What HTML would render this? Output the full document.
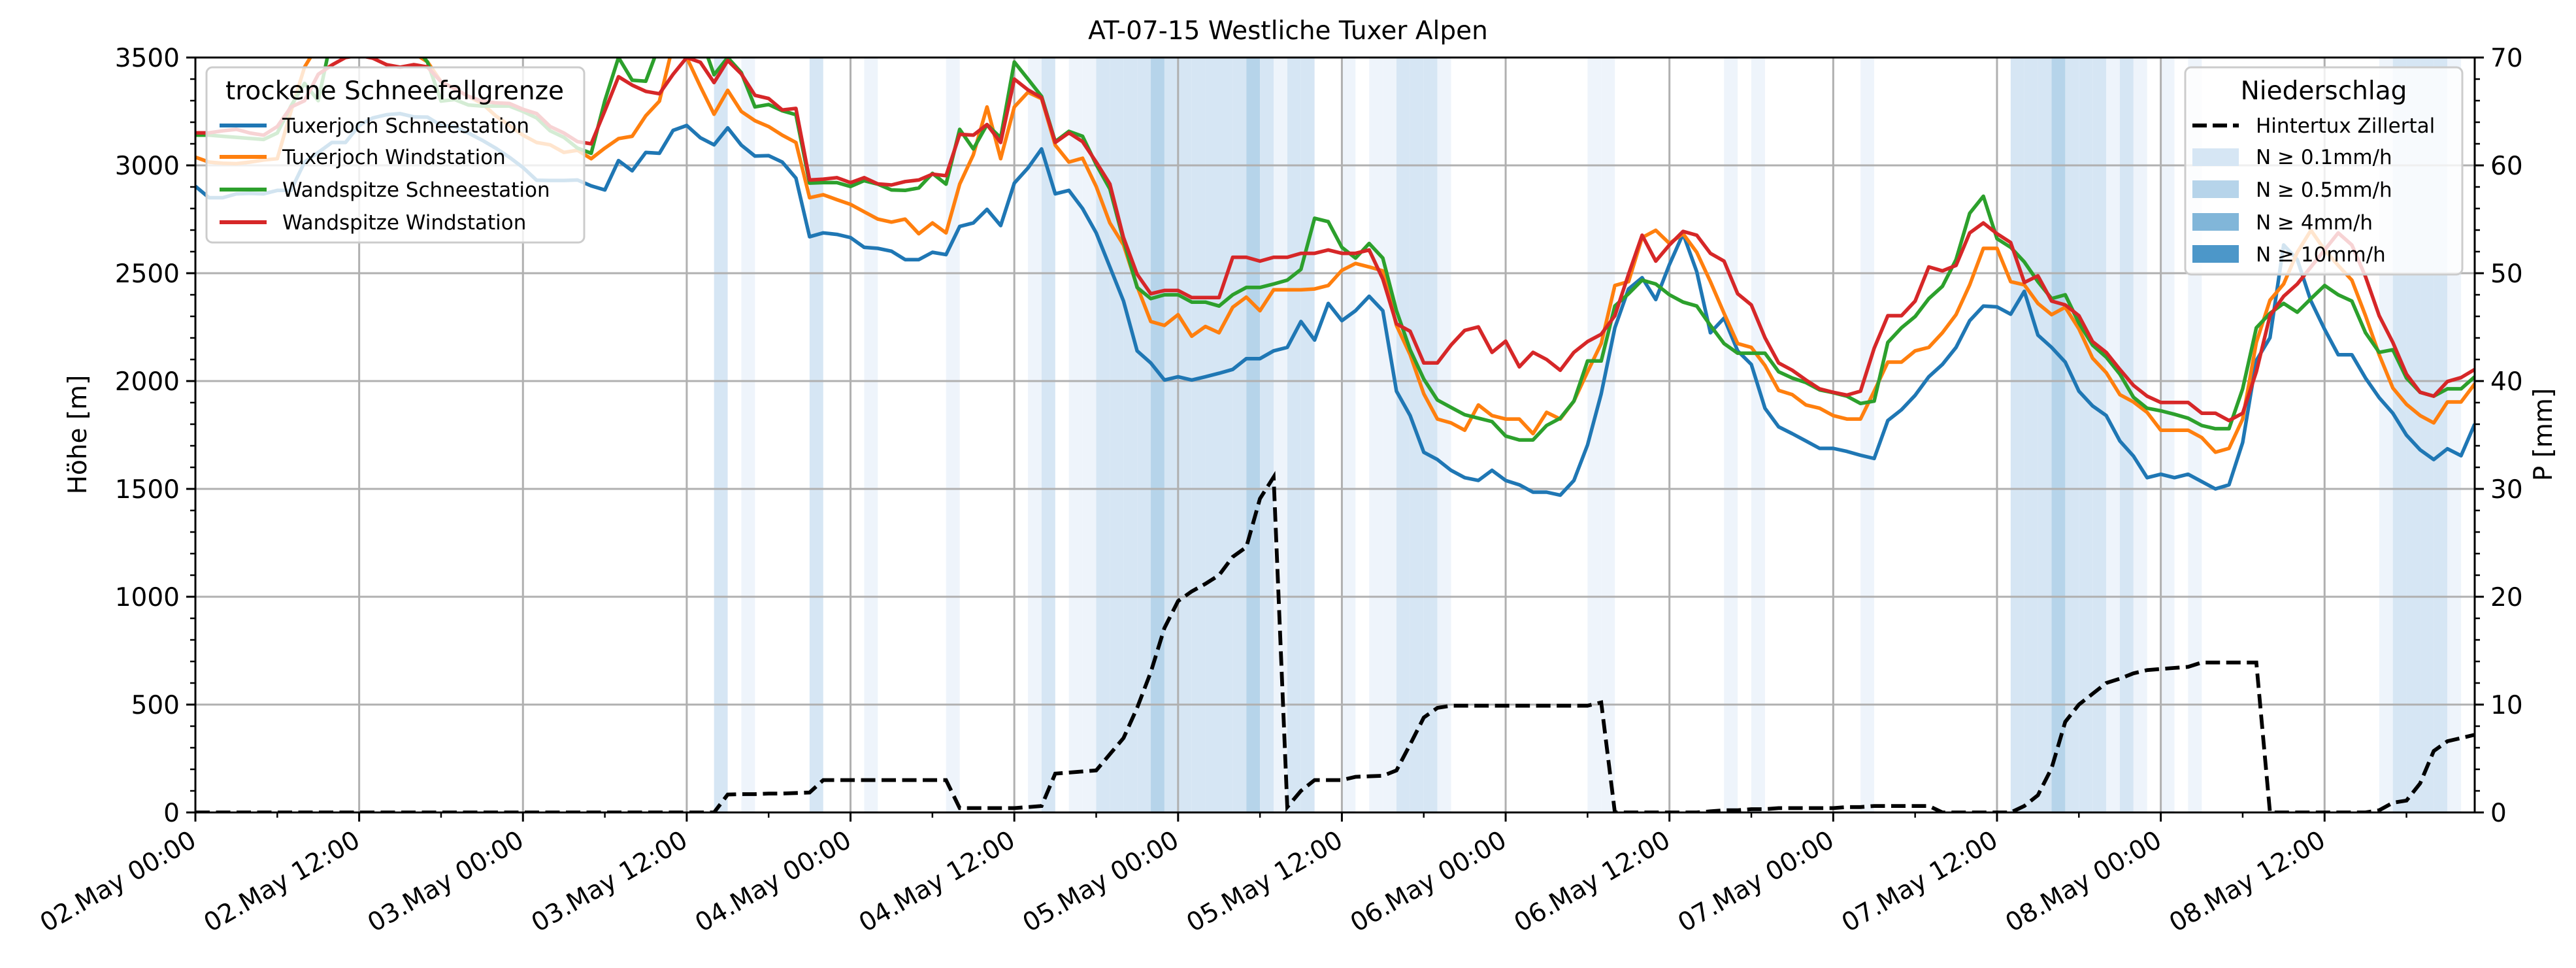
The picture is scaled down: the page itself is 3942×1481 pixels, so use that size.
<!DOCTYPE html>
<html><head><meta charset="utf-8">
<style>
html,body{margin:0;padding:0;background:#fff;}
svg{display:block;font-family:"DejaVu Sans","Liberation Sans",sans-serif;}
</style></head>
<body>
<svg id="chart" xmlns="http://www.w3.org/2000/svg" width="3942" height="1481" viewBox="0 0 3942 1481">
<defs><clipPath id="plotclip"><rect x="299" y="88" width="3488" height="1155"/></clipPath></defs>
<rect x="0" y="0" width="3942" height="1481" fill="#fff"/>
<g id="bands" clip-path="url(#plotclip)"></g>
<g id="grid"></g>
<g id="series" clip-path="url(#plotclip)"></g>
<g id="axes"></g>
<text x="1971" y="60" font-size="39" text-anchor="middle">AT-07-15 Westliche Tuxer Alpen</text>
<text transform="translate(132,665) rotate(-90)" font-size="39" text-anchor="middle">Höhe [m]</text>
<text transform="translate(3905,665) rotate(-90)" font-size="39" text-anchor="middle">P [mm]</text>

<g>
<rect x="316" y="103" width="578" height="268" rx="9" fill="#fff" fill-opacity="0.8" stroke="#cccccc" stroke-width="3"/>
<text x="604" y="152" font-size="39" text-anchor="middle">trockene Schneefallgrenze</text>
<line x1="336" y1="192" x2="408" y2="192" stroke="#1f77b4" stroke-width="6"/>
<text x="432" y="203" font-size="31">Tuxerjoch Schneestation</text>
<line x1="336" y1="240" x2="408" y2="240" stroke="#ff7f0e" stroke-width="6"/>
<text x="432" y="251" font-size="31">Tuxerjoch Windstation</text>
<line x1="336" y1="290" x2="408" y2="290" stroke="#2ca02c" stroke-width="6"/>
<text x="432" y="301" font-size="31">Wandspitze Schneestation</text>
<line x1="336" y1="340" x2="408" y2="340" stroke="#d62728" stroke-width="6"/>
<text x="432" y="351" font-size="31">Wandspitze Windstation</text>
</g>

<g>
<rect x="3344" y="103" width="424" height="317" rx="9" fill="#fff" fill-opacity="0.8" stroke="#cccccc" stroke-width="3"/>
<text x="3556" y="152" font-size="39" text-anchor="middle">Niederschlag</text>
<line x1="3355" y1="192" x2="3426" y2="192" stroke="#000" stroke-width="6" stroke-dasharray="22,9"/>
<text x="3452" y="203" font-size="31">Hintertux Zillertal</text>
<rect x="3355" y="227" width="71" height="27" fill="#d6e6f4"/>
<text x="3452" y="251" font-size="31">N ≥ 0.1mm/h</text>
<rect x="3355" y="276" width="71" height="27" fill="#b6d4ea"/>
<text x="3452" y="301" font-size="31">N ≥ 0.5mm/h</text>
<rect x="3355" y="326" width="71" height="27" fill="#81b6d9"/>
<text x="3452" y="351" font-size="31">N ≥ 4mm/h</text>
<rect x="3355" y="375" width="71" height="27" fill="#4c97c9"/>
<text x="3452" y="400" font-size="31">N ≥ 10mm/h</text>
</g>
</svg>
<script>
const hours=[];for(let i=0;i<=167;i++)hours.push(i);
const tuxSchnee=[2903,2850,2850,2868,2870,2868,2884,2884,3015,3060,3106,3106,3185,3220,3235,3240,3225,3224,3185,3180,3150,3117,3080,3038,2990,2931,2930,2930,2932,2905,2886,3022,2975,3060,3056,3162,3185,3128,3095,3174,3094,3043,3045,3015,2941,2669,2687,2680,2665,2620,2615,2602,2563,2563,2597,2586,2717,2733,2796,2721,2918,2988,3076,2868,2884,2800,2687,2529,2371,2140,2084,2005,2020,2005,2020,2036,2054,2104,2104,2140,2156,2276,2190,2360,2280,2326,2393,2326,1953,1840,1670,1636,1586,1552,1539,1586,1539,1519,1485,1485,1471,1539,1704,1941,2247,2427,2479,2378,2540,2683,2507,2224,2292,2140,2077,1874,1788,1756,1722,1688,1688,1674,1656,1641,1817,1867,1934,2020,2077,2156,2280,2348,2344,2310,2416,2213,2156,2088,1953,1885,1840,1722,1652,1552,1568,1552,1568,1534,1500,1519,1715,2095,2201,2631,2563,2371,2240,2122,2122,2014,1923,1851,1749,1681,1636,1686,1654,1801];
const tuxWind=[3038,3015,3010,3008,3015,3025,3031,3250,3456,3560,3600,3600,3600,3580,3560,3540,3520,3480,3388,3355,3320,3287,3230,3185,3140,3106,3095,3060,3070,3031,3080,3124,3135,3230,3298,3560,3500,3365,3237,3348,3250,3207,3180,3140,3106,2850,2864,2841,2819,2785,2751,2737,2751,2683,2733,2687,2913,3049,3271,3031,3271,3339,3309,3094,3015,3033,2902,2733,2631,2439,2276,2258,2308,2208,2253,2224,2342,2389,2326,2423,2423,2423,2427,2443,2513,2545,2529,2511,2258,2122,1941,1824,1806,1772,1889,1840,1824,1824,1756,1855,1824,1907,2043,2174,2443,2461,2665,2699,2638,2683,2597,2461,2314,2174,2156,2072,1957,1937,1889,1874,1840,1824,1824,1953,2088,2088,2140,2156,2224,2308,2446,2615,2615,2461,2446,2360,2308,2342,2242,2106,2039,1937,1903,1855,1772,1772,1772,1738,1670,1688,1824,2179,2375,2450,2597,2699,2608,2536,2468,2303,2122,1968,1892,1840,1806,1903,1903,1987];
const wandSchnee=[3140,3140,3135,3130,3125,3120,3150,3275,3380,3300,3600,3600,3600,3600,3600,3600,3560,3479,3298,3305,3280,3275,3275,3275,3250,3220,3160,3130,3080,3056,3300,3500,3395,3390,3560,3600,3600,3600,3420,3500,3430,3271,3282,3253,3235,2918,2920,2920,2902,2929,2913,2886,2884,2895,2963,2913,3167,3076,3189,3128,3479,3400,3320,3110,3158,3135,3004,2891,2653,2434,2382,2400,2400,2366,2366,2348,2400,2434,2434,2450,2468,2518,2755,2739,2620,2570,2638,2570,2326,2145,2009,1912,1878,1844,1828,1812,1745,1727,1727,1794,1828,1907,2093,2093,2348,2405,2468,2450,2400,2366,2348,2258,2174,2129,2129,2129,2043,2014,1993,1959,1946,1930,1896,1907,2179,2247,2299,2382,2439,2563,2778,2857,2660,2620,2552,2461,2382,2400,2269,2167,2111,2032,1925,1874,1862,1846,1828,1794,1779,1779,1964,2247,2314,2360,2319,2382,2443,2400,2371,2224,2133,2145,2014,1948,1930,1964,1964,2020];
const wandWind=[3151,3151,3160,3167,3150,3140,3180,3270,3300,3422,3465,3500,3510,3497,3467,3455,3467,3456,3388,3355,3320,3298,3290,3287,3260,3240,3180,3150,3110,3100,3253,3411,3372,3343,3332,3422,3500,3478,3384,3486,3424,3325,3310,3257,3264,2932,2936,2943,2920,2943,2914,2909,2925,2932,2959,2952,3144,3140,3189,3106,3400,3350,3314,3106,3151,3110,3015,2914,2665,2495,2405,2420,2420,2387,2387,2387,2574,2574,2556,2574,2574,2592,2592,2608,2592,2592,2608,2473,2265,2231,2084,2084,2167,2235,2251,2133,2185,2066,2133,2100,2050,2133,2183,2217,2303,2495,2676,2556,2631,2694,2676,2592,2556,2405,2353,2201,2084,2050,2005,1964,1948,1935,1953,2152,2303,2303,2371,2529,2511,2536,2687,2733,2683,2642,2457,2488,2371,2353,2303,2183,2133,2054,1980,1930,1901,1901,1901,1851,1851,1817,1851,2043,2303,2393,2450,2529,2608,2687,2631,2484,2303,2179,2032,1948,1930,1998,2016,2054];
const precipMM=[0,0,0,0,0,0,0,0,0,0,0,0,0,0,0,0,0,0,0,0,0,0,0,0,0,0,0,0,0,0,0,0,0,0,0,0,0,0,0,1.66,1.7,1.7,1.75,1.75,1.8,1.85,3,3,3,3,3,3,3,3,3,3,0.4,0.4,0.4,0.4,0.4,0.5,0.6,3.6,3.7,3.8,3.9,5.4,6.9,9.7,13,17.1,19.6,20.5,21.2,22,23.7,24.6,29.1,31.1,0.5,2,3,3,3,3.3,3.35,3.4,3.9,6.3,8.8,9.7,9.9,9.9,9.9,9.9,9.9,9.9,9.9,9.9,9.9,9.9,9.9,10.2,0,0,0,0,0,0,0,0.1,0.2,0.2,0.3,0.3,0.4,0.4,0.4,0.4,0.4,0.5,0.5,0.6,0.6,0.6,0.6,0.6,0,0,0,0,0,0,0.6,1.6,4.1,8.4,10,11,12,12.4,12.9,13.2,13.3,13.4,13.5,13.9,13.9,13.9,13.9,13.9,0,0,0,0,0,0,0,0,0.2,0.9,1.1,2.7,5.7,6.6,6.9,7.2];
const bandHours=[38,40,45,49,55,61,62,64,65,66,67,68,69,70,71,72,73,74,75,76,77,78,79,80,81,84,86,87,88,89,90,91,102,103,112,114,122,133,134,135,136,137,138,139,140,141,142,144,146,160,161,162,163,164,165];
const bandLevels=[2,1,2,1,1,1,2,1,1,2,2,2,2,3,2,2,2,2,2,2,3,2,1,2,2,1,1,1,2,2,2,1,1,1,1,1,1,2,2,2,3,2,2,2,1,2,1,1,1,1,2,2,2,2,1];
const yTicks=[0,500,1000,1500,2000,2500,3000,3500];
const y2Ticks=[0,10,20,30,40,50,60,70];
const xTickHours=[0,12,24,36,48,60,72,84,96,108,120,132,144,156];
const xTickLabels=["02.May 00:00","02.May 12:00","03.May 00:00","03.May 12:00","04.May 00:00","04.May 12:00","05.May 00:00","05.May 12:00","06.May 00:00","06.May 12:00","07.May 00:00","07.May 12:00","08.May 00:00","08.May 12:00"];

const NS="http://www.w3.org/2000/svg";
const L=299,R=3787,T=88,B=1243,XMAX=167,YMAX=3500,PMAX=70;
function X(h){return L+h*(R-L)/XMAX;}
function Y(v){return B-v*(B-T)/YMAX;}
function YP(p){return B-p*(B-T)/PMAX;}
function mk(tag,attrs,parent){const e=document.createElementNS(NS,tag);for(const k in attrs)e.setAttribute(k,attrs[k]);parent.appendChild(e);return e;}
const gB=document.getElementById('bands'),gG=document.getElementById('grid'),gS=document.getElementById('series'),gA=document.getElementById('axes');
const bandColors=['#ffffff','#eef4fb','#d6e6f4','#b6d4ea','#81b6d9'];
bandHours.forEach((h,i)=>{
  const r=mk('rect',{x:X(h),y:T,width:X(h+1)-X(h),height:B-T,fill:bandColors[bandLevels[i]]},gB);
  
  
});
yTicks.forEach(v=>{
  const l=mk('line',{x1:L,x2:R,y1:Y(v),y2:Y(v),stroke:'#b0b0b0','stroke-width':3},gG);
  
  
});
xTickHours.forEach(h=>{
  const l=mk('line',{x1:X(h),x2:X(h),y1:T,y2:B,stroke:'#b0b0b0','stroke-width':3},gG);
  
  
});
function pathOf(vals,fy){return vals.map((v,i)=>(i?'L':'M')+X(hours[i]).toFixed(1)+','+fy(v).toFixed(1)).join(' ');}
const series=[[tuxSchnee,'#1f77b4','line-tuxerjoch-schneestation'],[tuxWind,'#ff7f0e','line-tuxerjoch-windstation'],[wandSchnee,'#2ca02c','line-wandspitze-schneestation'],[wandWind,'#d62728','line-wandspitze-windstation']];
series.forEach(s=>{
  const p=mk('path',{d:pathOf(s[0],Y),fill:'none',stroke:s[1],'stroke-width':5.5,'stroke-linejoin':'round'},gS);
  
  
});
const pp=mk('path',{d:pathOf(precipMM,YP),fill:'none',stroke:'#000','stroke-width':5.8,'stroke-dasharray':'22,9.5'},gS);


// spines
const sp=mk('rect',{x:L,y:T,width:R-L,height:B-T,fill:'none',stroke:'#000','stroke-width':3},gA);


// y ticks
yTicks.forEach(v=>{
  mk('line',{x1:L-14,x2:L,y1:Y(v),y2:Y(v),stroke:'#000','stroke-width':3},gA);
  const t=mk('text',{x:L-24,y:Y(v)+14,'font-size':39,'text-anchor':'end'},gA);
  t.textContent=String(v);
  
  
});
for(let v=0;v<=YMAX;v+=100){if(v%500)mk('line',{x1:L-8,x2:L,y1:Y(v),y2:Y(v),stroke:'#000','stroke-width':2.5},gA);}
y2Ticks.forEach(p=>{
  mk('line',{x1:R,x2:R+14,y1:YP(p),y2:YP(p),stroke:'#000','stroke-width':3},gA);
  const t=mk('text',{x:R+24,y:YP(p)+14,'font-size':39,'text-anchor':'start'},gA);
  t.textContent=String(p);
  
  
});
for(let p=0;p<=PMAX;p+=2){if(p%10)mk('line',{x1:R,x2:R+8,y1:YP(p),y2:YP(p),stroke:'#000','stroke-width':2.5},gA);}
xTickHours.forEach((h,i)=>{
  mk('line',{x1:X(h),x2:X(h),y1:B,y2:B+14,stroke:'#000','stroke-width':3},gA);
  const t=mk('text',{transform:'translate('+(X(h)+4)+','+(B+50)+') rotate(-30)','font-size':39,'text-anchor':'end'},gA);
  t.textContent=xTickLabels[i];
  
  
});
for(let h=6;h<=XMAX;h+=12){mk('line',{x1:X(h),x2:X(h),y1:B,y2:B+8,stroke:'#000','stroke-width':2.5},gA);}
</script>
</body></html>
